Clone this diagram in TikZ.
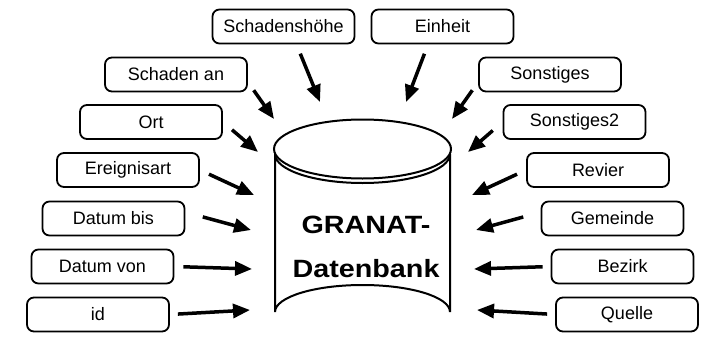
\documentclass[tikz,border=0pt]{standalone}
\usepackage{fontspec}
\setmainfont{Liberation Sans}
\newfontfamily\dbfont[FakeStretch=1.15]{Liberation Sans}
\usetikzlibrary{arrows.meta}

\begin{document}
\begin{tikzpicture}[x=1pt, y=-1pt, >={Triangle[length=17pt,width=14pt]}]
	\tikzstyle{field} = [rectangle, rounded corners=7pt, minimum width=142pt, minimum height=34pt, text centered, draw=black, line width=1.8pt, font=\fontsize{18}{21}\selectfont]
	\tikzstyle{feed} = [->, line width=3.5pt]
	\useasboundingbox (0,0) rectangle (706,340);
	% the database drum: body first, lid on top
	\draw[line width=2pt, fill=white] (275,154) -- (275,312) arc[start angle=180, end angle=360, x radius=87.5, y radius=27] -- (450,154) arc[start angle=0, end angle=180, x radius=87.5, y radius=29] -- cycle;
	\draw[line width=2pt, fill=white] (362.5,149) ellipse [x radius=88.5, y radius=29.5];
	\node (db)[font=\dbfont\bfseries\fontsize{25}{44}\selectfont, align=center] at (366,247) {GRANAT-\\Datenbank};
	% left column
	\node (schadenshoehe)[field] at (283.5,26.5) {Schadenshöhe};
	\node (schadenan)[field] at (176,74.5) {Schaden an};
	\node (ort)[field] at (151,122) {Ort};
	\node (ereignisart)[field] at (128,170) {Ereignisart};
	\node (datumbis)[field] at (113.5,218.5) {Datum bis};
	\node (datumvon)[field] at (102.5,266.5) {Datum von};
	\node (id)[field] at (98,314.5) {id};
	% right column
	\node (einheit)[field] at (442.5,26.5) {Einheit};
	\node (sonstiges)[field] at (550,74.5) {Sonstiges};
	\node (sonstiges2)[field] at (574.5,122) {Sonstiges2};
	\node (revier)[field] at (598,170) {Revier};
	\node (gemeinde)[field] at (612.5,218.5) {Gemeinde};
	\node (bezirk)[field] at (622.5,266.5) {Bezirk};
	\node (quelle)[field] at (627,314.5) {Quelle};
	% where the arrows end, around the drum
	\coordinate (schadenshoehe tip) at (320,102);
	\coordinate (schadenan tip) at (274,119);
	\coordinate (ort tip) at (258,152);
	\coordinate (ereignisart tip) at (254,195);
	\coordinate (datumbis tip) at (251,230);
	\coordinate (datumvon tip) at (252,269);
	\coordinate (id tip) at (250,310);
	\coordinate (einheit tip) at (406,102);
	\coordinate (sonstiges tip) at (452,119);
	\coordinate (sonstiges2 tip) at (468,152);
	\coordinate (revier tip) at (472,195);
	\coordinate (gemeinde tip) at (476,230);
	\coordinate (bezirk tip) at (474,269);
	\coordinate (quelle tip) at (477,310);
	\draw[feed, shorten <=10pt] (schadenshoehe.-54) -- (schadenshoehe tip);
	\draw[feed, shorten <=10pt] (schadenan.-6) -- (schadenan tip);
	\draw[feed, shorten <=12pt] (ort.east) -- (ort tip);
	\draw[feed, shorten <=10pt] (ereignisart.east) -- (ereignisart tip);
	\draw[feed, shorten <=18pt] (datumbis.5) -- (datumbis tip);
	\draw[feed, shorten <=9pt] (datumvon.east) -- (datumvon tip);
	\draw[feed, shorten <=8pt] (id.east) -- (id tip);
	\draw[feed, shorten <=10pt] (einheit.-129) -- (einheit tip);
	\draw[feed, shorten <=10pt] (sonstiges.-174) -- (sonstiges tip);
	\draw[feed, shorten <=13pt] (sonstiges2.west) -- (sonstiges2 tip);
	\draw[feed, shorten <=10pt] (revier.west) -- (revier tip);
	\draw[feed, shorten <=18pt] (gemeinde.175) -- (gemeinde tip);
	\draw[feed, shorten <=8pt] (bezirk.west) -- (bezirk tip);
	\draw[feed, shorten <=8pt] (quelle.west) -- (quelle tip);
\end{tikzpicture}
\end{document}
